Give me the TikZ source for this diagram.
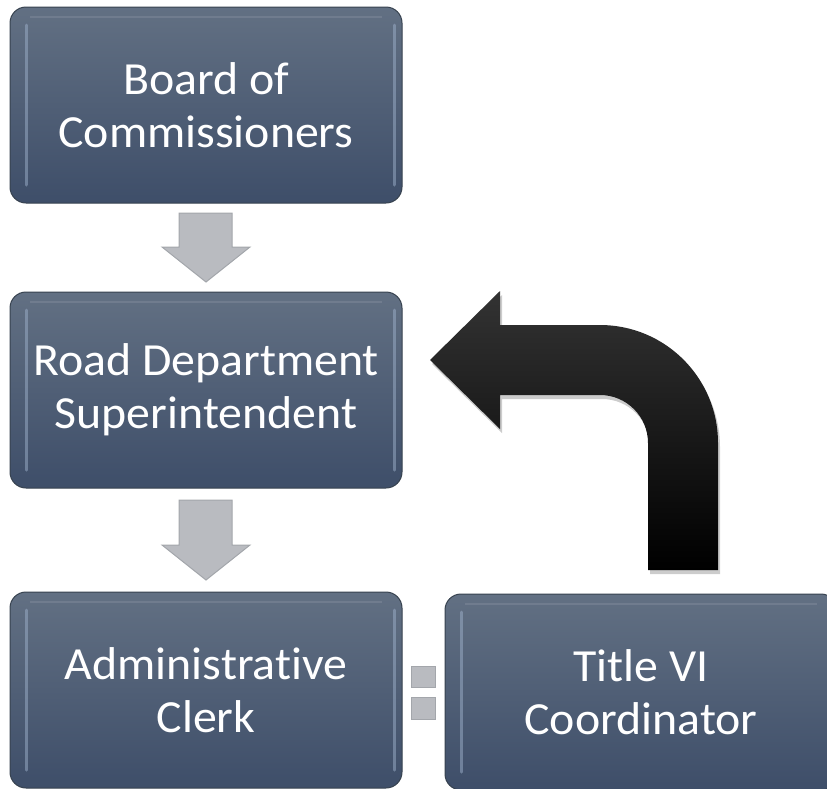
\documentclass[tikz,border=0pt]{standalone}
\usepackage{fontspec}
\setmainfont{Carlito}[Ligatures={NoCommon,NoRare}]
\usetikzlibrary{calc}
\definecolor{boxtop}{HTML}{627083}
\definecolor{boxbot}{HTML}{3E4E69}
\definecolor{boxedge}{HTML}{37424F}
\definecolor{bevel}{HTML}{9DB0CA}
\definecolor{grayfill}{HTML}{B9BBC0}
\definecolor{grayedge}{HTML}{A3A6AB}
\newcommand{\wideline}[1]{\scalebox{1.04}[1]{#1}}
\begin{document}
\begin{tikzpicture}[x=1pt,y=-1pt,
  every node/.style={outer sep=0pt},
  rolebox/.style={rectangle, rounded corners=16pt, minimum width=392pt, minimum height=196pt,
    top color=boxtop, bottom color=boxbot, draw=boxedge, line width=1pt,
    text=white, align=center, font=\fontsize{46}{53}\selectfont,
    path picture={
      \draw[bevel, line width=3pt, opacity=0.5, line cap=round]
        ($(path picture bounding box.north west)+(16,18)$) -- ($(path picture bounding box.south west)+(16,-18)$);
      \draw[bevel, line width=3pt, opacity=0.5, line cap=round]
        ($(path picture bounding box.north east)+(-8,18)$) -- ($(path picture bounding box.south east)+(-8,-18)$);
      \draw[white, line width=2pt, opacity=0.1]
        ($(path picture bounding box.north west)+(20,10)$) -- ($(path picture bounding box.north east)+(-20,10)$);
    }},
  downarrow/.style={fill=grayfill, draw=grayedge, line width=1pt},
  eqbar/.style={fill=grayfill, draw=grayedge, line width=1pt}]

\useasboundingbox (0,0) rectangle (827,788);

\node[rolebox] (board) at (206,105) {\wideline{Board of}\\\wideline{Commissioners}};
\node[rolebox] (super) at (206,390) {\wideline{Road Department}\\\wideline{Superintendent}};
\node[rolebox] (clerk) at (206,690) {\wideline{Administrative}\\\wideline{Clerk}};
\node[rolebox] (coord) at (641,692) {\wideline{Title VI}\\\wideline{Coordinator}};

\draw[downarrow] (179,213) -- (232,213) -- (232,247) -- (250,247) -- (206,282) -- (162,247) -- (179,247) -- cycle;
\draw[downarrow] (179,500) -- (232,500) -- (232,545) -- (250,545) -- (206,580) -- (162,545) -- (179,545) -- cycle;

\draw[eqbar] (411,666) rectangle (435,687);
\draw[eqbar] (411,697) rectangle (435,719);

\fill[black, opacity=0.2, shift={(2,4)}] (718,570) -- (718,443) arc[start angle=0, end angle=-90, radius=118]
  -- (500,325) -- (500,291) -- (430,360) -- (500,429) -- (500,395) -- (600,395)
  arc[start angle=-90, end angle=0, radius=48] -- (648,570) -- cycle;
\shade[top color=black!80, bottom color=black] (718,570) -- (718,443) arc[start angle=0, end angle=-90, radius=118]
  -- (500,325) -- (500,291) -- (430,360) -- (500,429) -- (500,395) -- (600,395)
  arc[start angle=-90, end angle=0, radius=48] -- (648,570) -- cycle;
\end{tikzpicture}
\end{document}
